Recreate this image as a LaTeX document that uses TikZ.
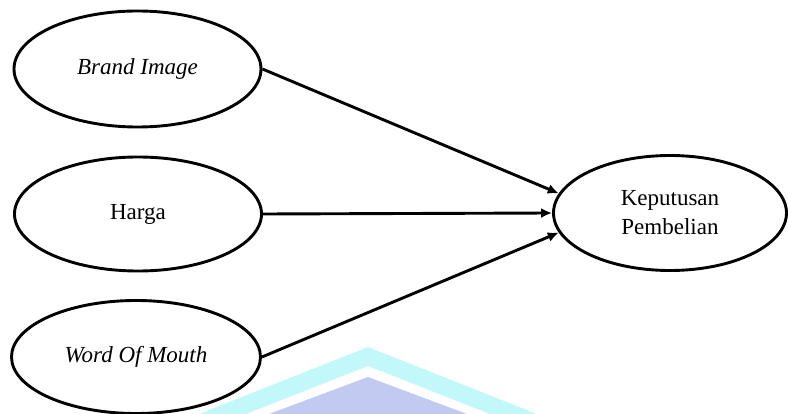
\documentclass[tikz,border=0pt]{standalone}
\usepackage{fontspec}
\setmainfont{Liberation Serif}
\usetikzlibrary{shapes.geometric,arrows.meta}
\definecolor{wmcyan}{HTML}{C2F8F9}
\definecolor{wmlav}{HTML}{C2CAF2}
\begin{document}
\begin{tikzpicture}[x=1pt,y=-1pt,
  var/.style={ellipse,draw,line width=2.9pt,inner sep=0pt,
    font=\fontsize{23}{29}\selectfont,align=center},
  link/.style={line width=2.9pt,-{Latex[length=11pt,width=10pt]}}]
\useasboundingbox (0,0) rectangle (788,414);
% watermark
\fill[wmcyan] (199,414) -- (368,347) -- (537,414) -- (490,414) -- (368,366) -- (246,414) -- cycle;
\fill[wmlav] (269,414) -- (368,377) -- (467,414) -- cycle;
% nodes
\node[var,minimum width=247pt,minimum height=116pt] (bi) at (137.5,69) {\itshape Brand Image};
\node[var,minimum width=247pt,minimum height=114pt] (hg) at (138,214) {Harga};
\node[var,minimum width=249pt,minimum height=113pt] (wm) at (136,357) {\itshape Word Of Mouth};
\node[var,minimum width=233pt,minimum height=115pt] (kp) at (670,213) {Keputusan\\Pembelian};
% links
\draw[link] (bi.east) -- (kp.170);
\draw[link] (hg.east) -- (kp.west);
\draw[link] (wm.east) -- (kp.190);
\end{tikzpicture}
\end{document}
